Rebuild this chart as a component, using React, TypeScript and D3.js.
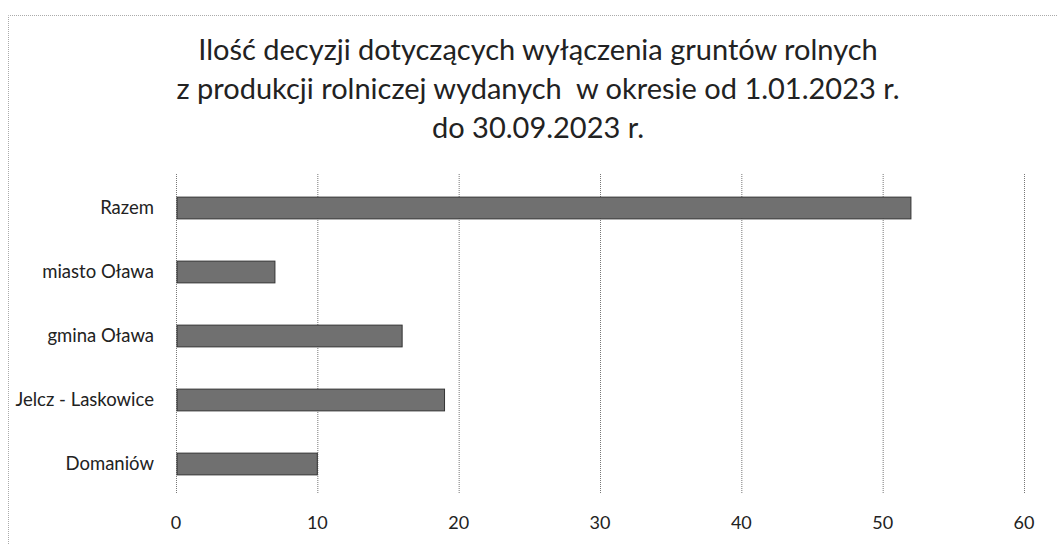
import { useEffect, useRef } from 'react'
import * as d3 from 'd3'

const categories = ['Razem', 'miasto Oława', 'gmina Oława', 'Jelcz - Laskowice', 'Domaniów']
const values = [52, 7, 16, 19, 10]
const ticks = [0, 10, 20, 30, 40, 50, 60]
const titleLines = [
  'Ilość decyzji dotyczących wyłączenia gruntów rolnych',
  'z produkcji rolniczej wydanych  w okresie od 1.01.2023 r.',
  'do 30.09.2023 r.',
]

const W = 1058
const H = 544
const FONT = 'Lato, "Open Sans", sans-serif'

export default function App() {
  const svgRef = useRef<SVGSVGElement>(null)

  useEffect(() => {
    if (!svgRef.current) return
    const svg = d3.select(svgRef.current)
    svg.selectAll('*').remove()

    const x = d3.scaleLinear().domain([0, 60]).range([176, 1024])
    const y = d3.scaleBand().domain(categories).range([176, 496]).paddingInner(0.66).paddingOuter(0.33)

    // frame
    svg.append('path')
      .attr('d', `M8.5,${H} V15.5 H${W}`)
      .attr('fill', 'none')
      .attr('stroke', '#aaa')
      .attr('stroke-dasharray', '1,1')

    // title
    svg.append('g')
      .selectAll('text')
      .data(titleLines)
      .join('text')
      .attr('x', 538)
      .attr('y', (_, i) => 60 + i * 39)
      .attr('text-anchor', 'middle')
      .attr('font-family', FONT)
      .attr('font-size', 29)
      .attr('fill', '#222')
      .style('white-space', 'pre')
      .text((d) => d)

    // grid
    svg.append('g')
      .selectAll('line')
      .data(ticks)
      .join('line')
      .attr('x1', (d) => x(d) + 0.5)
      .attr('x2', (d) => x(d) + 0.5)
      .attr('y1', 174)
      .attr('y2', 494)
      .attr('stroke', '#777')
      .attr('stroke-dasharray', '1,1')

    // bars
    svg.append('g')
      .selectAll('rect')
      .data(values)
      .join('rect')
      .attr('x', x(0) + 1)
      .attr('y', (_, i) => y(categories[i])!)
      .attr('width', (d) => x(d) - x(0) - 1)
      .attr('height', y.bandwidth())
      .attr('fill', '#707070')
      .attr('stroke', '#333')
      .attr('stroke-width', 1)

    // category labels
    svg.append('g')
      .selectAll('text')
      .data(categories)
      .join('text')
      .attr('x', 154)
      .attr('y', (d) => y(d)! + y.bandwidth() / 2)
      .attr('dy', '0.35em')
      .attr('text-anchor', 'end')
      .attr('font-family', FONT)
      .attr('font-size', 18.5)
      .attr('fill', '#222')
      .text((d) => d)

    // tick labels
    svg.append('g')
      .selectAll('text')
      .data(ticks)
      .join('text')
      .attr('x', (d) => x(d))
      .attr('y', 529)
      .attr('text-anchor', 'middle')
      .attr('font-family', FONT)
      .attr('font-size', 18)
      .attr('fill', '#222')
      .text((d) => d)
  }, [])

  return (
    <svg
      ref={svgRef}
      width={W}
      height={H}
      style={{ position: 'absolute', left: 0, top: 0, background: '#fff' }}
    />
  )
}
